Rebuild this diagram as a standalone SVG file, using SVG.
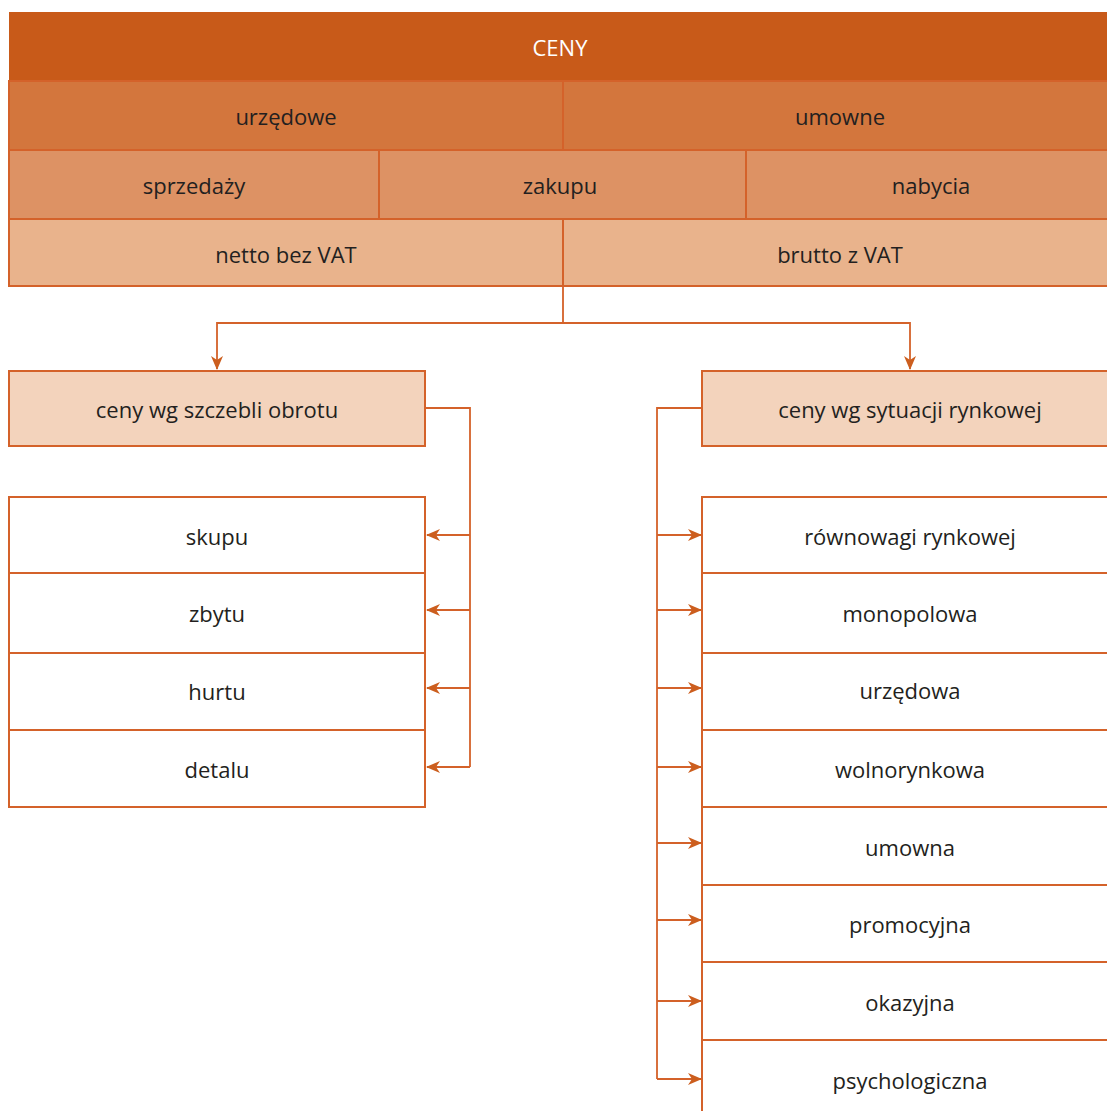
<svg xmlns="http://www.w3.org/2000/svg" width="1107" height="1111" viewBox="0 0 1107 1111">
<defs>
<style>
.t{font-family:"Open Sans","Liberation Sans",sans-serif;font-size:22px;fill:#231F20;text-anchor:middle;dominant-baseline:central}
.w{fill:#fff}
.b{stroke:#D4622A;stroke-width:2}
.c{fill:none;stroke:#D4622A;stroke-width:1.8}
</style>
<marker id="ah" viewBox="0 0 14 12" refX="13" refY="6" markerWidth="14" markerHeight="12" markerUnits="userSpaceOnUse" orient="auto">
<path d="M0,0 L14,6 L0,12 L4,6 Z" fill="#CC5E1E"/>
</marker>
</defs>
<rect width="1107" height="1111" fill="#fff"/>
<g id="header">
<rect x="9" y="12" width="1100" height="69" fill="#C85A19"/>
<text class="t w" x="560" y="47">CENY</text>
</g>
<g id="row-urzedowe-umowne">
<rect x="9" y="81" width="554" height="69" fill="#D3763D" class="b"/>
<rect x="563" y="81" width="546" height="69" fill="#D3763D" class="b"/>
<text class="t" x="286" y="116">urzędowe</text>
<text class="t" x="840" y="116">umowne</text>
</g>
<g id="row-sprzedazy">
<rect x="9" y="150" width="370" height="69" fill="#DD9264" class="b"/>
<rect x="379" y="150" width="367" height="69" fill="#DD9264" class="b"/>
<rect x="746" y="150" width="363" height="69" fill="#DD9264" class="b"/>
<text class="t" x="194" y="185">sprzedaży</text>
<text class="t" x="560" y="185">zakupu</text>
<text class="t" x="931" y="185">nabycia</text>
</g>
<g id="row-netto-brutto">
<rect x="9" y="219" width="554" height="67" fill="#E9B38C" class="b"/>
<rect x="563" y="219" width="546" height="67" fill="#E9B38C" class="b"/>
<text class="t" x="286" y="254">netto bez VAT</text>
<text class="t" x="840" y="254">brutto z VAT</text>
</g>
<g id="connectors">
<path class="c" d="M563,287 V323 H217 V369" marker-end="url(#ah)"/>
<path class="c" d="M563,323 H910 V369" marker-end="url(#ah)"/>
<path class="c" d="M426,408 H470 V767"/>
<path class="c" d="M470,535 H427" marker-end="url(#ah)"/>
<path class="c" d="M470,610 H427" marker-end="url(#ah)"/>
<path class="c" d="M470,688 H427" marker-end="url(#ah)"/>
<path class="c" d="M470,767 H427" marker-end="url(#ah)"/>
<path class="c" d="M702,408 H657 V1079"/>
<path class="c" d="M657,535 H701" marker-end="url(#ah)"/>
<path class="c" d="M657,610 H701" marker-end="url(#ah)"/>
<path class="c" d="M657,688 H701" marker-end="url(#ah)"/>
<path class="c" d="M657,767 H701" marker-end="url(#ah)"/>
<path class="c" d="M657,843 H701" marker-end="url(#ah)"/>
<path class="c" d="M657,920 H701" marker-end="url(#ah)"/>
<path class="c" d="M657,1001 H701" marker-end="url(#ah)"/>
<path class="c" d="M657,1079 H701" marker-end="url(#ah)"/>
</g>
<g id="szczeble">
<rect x="9" y="371" width="416" height="75" fill="#F3D3BC" class="b"/>
<text class="t" x="217" y="409">ceny wg szczebli obrotu</text>
</g>
<g id="sytuacja">
<rect x="702" y="371" width="407" height="75" fill="#F3D3BC" class="b"/>
<text class="t" x="910" y="409">ceny wg sytuacji rynkowej</text>
</g>
<g id="lista-lewa">
<rect x="9" y="497" width="416" height="76" fill="#fff" class="b"/>
<rect x="9" y="573" width="416" height="80" fill="#fff" class="b"/>
<rect x="9" y="653" width="416" height="77" fill="#fff" class="b"/>
<rect x="9" y="730" width="416" height="77" fill="#fff" class="b"/>
<text class="t" x="217" y="536">skupu</text>
<text class="t" x="217" y="613">zbytu</text>
<text class="t" x="217" y="691">hurtu</text>
<text class="t" x="217" y="769">detalu</text>
</g>
<g id="lista-prawa">
<rect x="702" y="497" width="407" height="76" fill="#fff" class="b"/>
<rect x="702" y="573" width="407" height="80" fill="#fff" class="b"/>
<rect x="702" y="653" width="407" height="77" fill="#fff" class="b"/>
<rect x="702" y="730" width="407" height="77" fill="#fff" class="b"/>
<rect x="702" y="807" width="407" height="78" fill="#fff" class="b"/>
<rect x="702" y="885" width="407" height="77" fill="#fff" class="b"/>
<rect x="702" y="962" width="407" height="78" fill="#fff" class="b"/>
<rect x="702" y="1040" width="407" height="80" fill="#fff" class="b"/>
<text class="t" x="910" y="536">równowagi rynkowej</text>
<text class="t" x="910" y="613">monopolowa</text>
<text class="t" x="910" y="690">urzędowa</text>
<text class="t" x="910" y="769">wolnorynkowa</text>
<text class="t" x="910" y="847">umowna</text>
<text class="t" x="910" y="924">promocyjna</text>
<text class="t" x="910" y="1002">okazyjna</text>
<text class="t" x="910" y="1080">psychologiczna</text>
</g>
</svg>
